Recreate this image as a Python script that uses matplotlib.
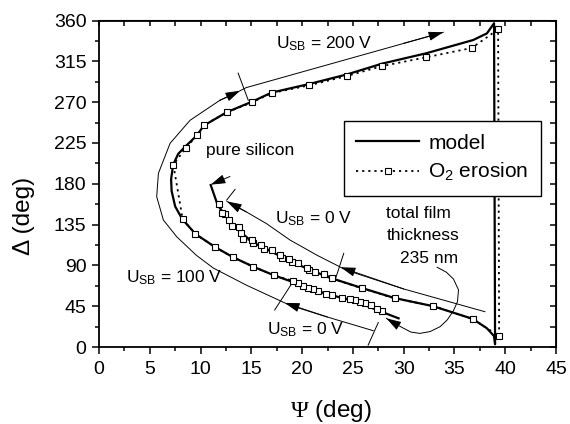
import matplotlib
matplotlib.use("Agg")
import matplotlib.pyplot as plt
from matplotlib.ticker import MultipleLocator

plt.rcParams['font.family'] = ['Liberation Sans', 'DejaVu Sans']
plt.rcParams['mathtext.fontset'] = 'custom'
plt.rcParams['mathtext.rm'] = 'Liberation Sans'
plt.rcParams['mathtext.sf'] = 'Liberation Serif'

# model curve: outer branch (100 V -> 200 V), vertical jump, inner branch (0 V) up to pure silicon
model_psi = [29.5, 27.9, 25.2, 22.4, 19.5, 17.24, 15.2, 13.2, 11.46, 9.5, 8.2, 7.5, 7.15, 7.1,
             7.3, 7.8, 8.5, 9.7, 10.3, 12.6, 15.07, 17.0, 20.7, 24.4, 27.9, 32.2, 36.85, 38.2, 38.9,
             39.0, 38.9, 38.2, 36.8, 32.9, 29.1, 25.9, 22.7, 20.6, 18.75, 17.0, 15.2, 14.0,
             12.8, 11.7, 11.0]
model_delta = [31.6, 38.5, 50.5, 58.5, 70.0, 79.0, 88.5, 99.0, 110.0, 124.6, 141.0, 155.0, 172.0, 185.0,
               201.0, 213.0, 221.0, 234.0, 244.0, 259.0, 270.5, 280.5, 290.0, 300.5, 312.5, 323.8, 338.5,
               345.8, 357.0, 3.0, 12.0, 20.6, 31.0, 45.0, 54.0, 65.0, 76.5, 86.0, 95.0, 105.0,
               115.0, 126.0, 140.0, 156.0, 178.6]

# O2 erosion measurement
o2_psi = [27.9, 27.4, 26.8, 26.2, 25.7, 25.2, 24.7, 23.9, 22.9, 22.4, 21.6, 21.05, 20.6, 20.1, 19.64,
          19.14, 17.24, 15.2, 13.2, 11.46, 9.49, 8.24, 7.32, 8.54, 9.69, 10.3, 12.6, 15.07, 17.0, 20.7,
          24.4, 27.9, 32.2, 36.7, 39.3, 39.4, 36.8, 32.9, 29.1, 25.9, 22.9, 22.2, 21.3, 20.7, 20.5,
          19.6, 18.98, 18.75, 18.0, 17.8, 17.0, 16.26, 16.0, 15.2, 15.04, 14.2, 13.99, 13.8, 13.07,
          12.84, 12.41, 12.09, 11.85]
o2_delta = [39.3, 42.2, 45.9, 48.1, 49.6, 51.8, 52.5, 54.4, 57.3, 58.4, 62.0, 63.9, 64.7, 67.3, 70.2,
            72.8, 79.0, 88.5, 98.9, 109.9, 124.6, 140.8, 201.0, 219.4, 233.7, 244.4, 258.7, 269.8, 280.0,
            288.5, 298.8, 309.8, 319.4, 329.7, 350.2, 12.1, 30.9, 45.2, 53.7, 64.7, 75.7, 80.5, 83.0,
            84.9, 86.7, 93.0, 93.7, 96.7, 97.8, 101.4, 107.0, 107.7, 112.5, 114.3, 118.0, 118.7, 125.3,
            132.7, 133.4, 140.0, 146.6, 147.3, 157.7]

# thin guide lines drawn next to the curves
guide_outer_psi = [27.0, 22.5, 18.8, 14.55, 11.26, 9.6, 7.65, 6.34, 5.68, 5.85, 7.0, 8.97, 11.9, 13.0, 14.5, 33.9]
guide_outer_delta = [18.0, 33.0, 46.0, 68.0, 87.0, 101.0, 121.6, 140.0, 165.7, 191.5, 224.6, 250.0, 272.0,
                     277.5, 286.0, 347.0]
guide_inner_psi = [38.0, 30.0, 24.4, 21.5, 18.8, 16.5, 14.5, 12.6]
guide_inner_delta = [38.9, 64.0, 84.5, 101.0, 118.0, 136.0, 149.0, 160.5]
guide_film_psi = [33.3, 34.2, 34.9, 35.4, 35.3, 34.9, 34.3, 33.6, 32.6, 31.6, 30.7, 30.0, 29.2, 28.3]
guide_film_delta = [87.9, 82.5, 75.0, 63.0, 50.0, 40.0, 30.0, 22.5, 17.0, 15.0, 16.5, 20.6, 25.5, 31.6]

# short cross marks on the guides
mark_psi = [(23.25, 24.1), (12.57, 13.4), (17.3, 19.1), (26.5, 27.5), (13.7, 14.7)]
mark_delta = [(73.9, 103.3), (162.0, 173.8), (40.8, 72.0), (2.0, 27.0), (302.0, 272.0)]

# arrow heads: (tip, tail)
arrows = [((18.3, 48.6), (22.5, 33.0)),
          ((13.9, 282.6), (11.9, 272.0)),
          ((33.9, 347.0), (30.0, 334.8)),
          ((23.8, 87.9), (30.0, 64.0)),
          ((12.6, 160.5), (14.5, 149.0)),
          ((28.3, 31.6), (29.2, 25.5)),
          ((11.0, 179.0), (12.9, 188.0))]

labels = [(17.4, 335, r'$\mathregular{U_{SB}}$ = 200 V'),
          (10.5, 217, 'pure silicon'),
          (17.3, 142, r'$\mathregular{U_{SB}}$ = 0 V'),
          (2.66, 76, r'$\mathregular{U_{SB}}$ = 100 V'),
          (16.5, 18.7, r'$\mathregular{U_{SB}}$ = 0 V'),
          (28.3, 147, 'total film'),
          (28.3, 123, 'thickness'),
          (29.65, 98, '235 nm')]

fig = plt.figure(figsize=(5.7, 4.24), dpi=100)
ax = fig.add_axes([99 / 570, 1 - 347 / 424, 457 / 570, 326.5 / 424])

ax.plot(model_psi, model_delta, color='k', lw=1.6, zorder=3, label='model')
ax.plot(o2_psi, o2_delta, color='k', lw=1.3, ls=(0, (1.2, 2.2)), marker='s', ms=5,
        mfc='white', mec='k', mew=0.8, zorder=4, label=r'$\mathregular{O_2}$ erosion')

thin = dict(color='k', lw=0.7, zorder=2)
ax.plot(guide_outer_psi, guide_outer_delta, **thin)
ax.plot(guide_inner_psi, guide_inner_delta, **thin)
ax.plot(guide_film_psi, guide_film_delta, **thin)
for mp, md in zip(mark_psi, mark_delta):
    ax.plot(mp, md, **thin)
for tip, tail in arrows:
    ax.annotate('', xy=tip, xytext=tail,
                arrowprops=dict(arrowstyle='-|>,head_length=0.9,head_width=0.28',
                                color='k', lw=0.7, shrinkA=0, shrinkB=0))

for x, y, s in labels:
    ax.text(x, y, s, fontsize=12.5, ha='left', va='center')

ax.set_xlim(0, 45)
ax.set_ylim(0, 360)
ax.xaxis.set_major_locator(MultipleLocator(5))
ax.xaxis.set_minor_locator(MultipleLocator(2.5))
ax.yaxis.set_major_locator(MultipleLocator(45))
ax.yaxis.set_minor_locator(MultipleLocator(22.5))
ax.tick_params(which='both', direction='out', width=1.1, labelsize=14)
ax.tick_params(which='major', length=5)
ax.tick_params(which='minor', length=3)
ax.tick_params(axis='x', pad=5)
ax.tick_params(axis='y', pad=4)
for sp in ax.spines.values():
    sp.set_linewidth(1.3)

top = ax.secondary_xaxis('top')
top.xaxis.set_major_locator(MultipleLocator(5))
top.xaxis.set_minor_locator(MultipleLocator(2.5))
top.tick_params(which='both', direction='in', length=4, width=1.1, labeltop=False)
right = ax.secondary_yaxis('right')
right.yaxis.set_major_locator(MultipleLocator(45))
right.yaxis.set_minor_locator(MultipleLocator(22.5))
right.tick_params(which='both', direction='in', length=4, width=1.1, labelright=False)

ax.set_xlabel(r'$\mathsf{\Psi}$ (deg)', fontsize=17.5)
ax.set_ylabel('Δ (deg)', fontsize=17.5)
ax.xaxis.set_label_coords(0.508, -0.155)
ax.yaxis.set_label_coords(-0.14, 0.40)

leg = ax.legend(loc='upper left', bbox_to_anchor=(0.536, 0.692), fontsize=15, handlelength=3.0,
                numpoints=1, fancybox=False, framealpha=1, edgecolor='k', borderpad=0.6,
                labelspacing=0.4, handletextpad=0.45, borderaxespad=0)
leg.get_frame().set_linewidth(1.0)
leg.set_zorder(10)

fig.savefig('out.png', dpi=100)
